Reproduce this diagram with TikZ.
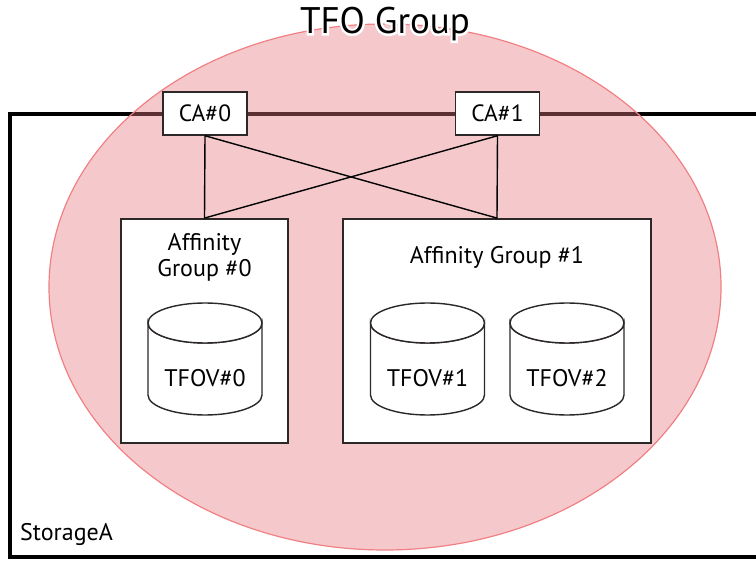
\documentclass[tikz,border=0pt]{standalone}
\usepackage{fontspec}
\setmainfont{PT Sans}
\newfontfamily\halofont[FakeBold=12]{PT Sans}
\definecolor{pinkfill}{RGB}{230,120,125}
\definecolor{pinkline}{RGB}{240,128,132}
\definecolor{boxline}{RGB}{45,40,40}
\tikzset{
  agbox/.style={draw=boxline, line width=1.8pt, fill=white, inner sep=0pt},
  cabox/.style={draw=boxline, line width=1.5pt, fill=white, inner sep=0pt, minimum width=84pt, minimum height=43pt, font=\fontsize{23.5}{26}\selectfont},
  link/.style={draw=black, line width=1.4pt},
  disk/.style={draw=boxline, line width=1.4pt, fill=white},
  lbl/.style={font=\fontsize{24}{28}\selectfont, inner sep=0pt}
}
\begin{document}
\begin{tikzpicture}[x=1pt,y=-1pt]
\useasboundingbox (0,0) rectangle (756,561);
% storage frame
\draw[line width=3.5pt, black] (10,114) rectangle (790,557);
\node[lbl, anchor=base west] (stor) at (20,540) {StorageA};
% TFO group ellipse
\fill[pinkfill, opacity=0.4] (385,287) ellipse [x radius=336, y radius=263];
\draw[pinkline, line width=1.2pt] (385,287) ellipse [x radius=336, y radius=263];
% title with white halo
\node[font=\fontsize{37}{40}\selectfont, inner sep=0pt] (title) at (385,24)
  {\rlap{\halofont\color{white}TFO Group}TFO Group};
% boxes
\node[agbox, minimum width=167pt, minimum height=224pt] (ag0) at (204.5,331) {};
\node[agbox, minimum width=308pt, minimum height=224pt] (ag1) at (497,331) {};
\node[cabox] (ca0) at (205,113.5) {CA\#0};
\node[cabox] (ca1) at (497.5,113.5) {CA\#1};
% connectors
\draw[link] (ca0.south) -- (ag0.north);
\draw[link] (ca0.south) -- (ag1.north);
\draw[link] (ca1.south) -- (ag0.north);
\draw[link] (ca1.south) -- (ag1.north);
% labels
\node[lbl, align=center] (ag0l) at (204.5,257) {Affinity\\[-2pt]Group \#0};
\node[lbl] (ag1l) at (497,257) {Affinity Group \#1};
% disks
\foreach \cx/\nm/\t in {205/d0/TFOV\#0, 427.5/d1/TFOV\#1, 567/d2/TFOV\#2}{
  \draw[disk] (\cx-57,323) -- (\cx-57,395) arc[start angle=180, end angle=360, x radius=57, y radius=-20] -- (\cx+57,323) arc[start angle=0, end angle=-180, x radius=57, y radius=-20] -- cycle;
  \draw[disk] (\cx,323) ellipse [x radius=57, y radius=20];
  \node[lbl] (\nm) at (\cx,378) {\t};
}
\end{tikzpicture}
\end{document}
